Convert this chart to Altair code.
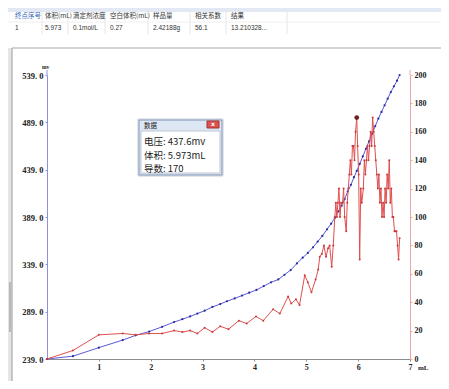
import altair as alt
import pandas as pd

# ---------------- data ----------------
vol_b = [0, 0.5, 1.0, 1.46, 1.71, 1.97, 2.22, 2.45, 2.61, 2.76,
         2.90, 3.04, 3.19, 3.34, 3.47, 3.62, 3.76, 3.90, 4.04, 4.18,
         4.32, 4.46, 4.58, 4.70, 4.82, 4.93, 5.03, 5.13, 5.22, 5.31,
         5.40, 5.48, 5.55, 5.62, 5.68, 5.74, 5.80, 5.86, 5.92, 5.973,
         6.03, 6.09, 6.15, 6.21, 6.27, 6.33, 6.39, 6.45, 6.51, 6.57,
         6.63, 6.69, 6.75, 6.80]
mv = [239, 242, 251, 259, 264, 268, 273, 278, 281, 284,
      287, 290, 294, 297, 300, 303, 306, 309, 312, 316,
      320, 323, 328, 333, 340, 346, 351, 357, 363, 369,
      376, 382, 388, 395, 401, 408, 416, 423, 431, 437.6,
      445, 453, 461, 469, 477, 485, 493, 500, 507, 514,
      521, 527, 533, 539]

vol_d = [0, 0.5, 1.0, 1.46, 1.71, 1.97, 2.22, 2.45, 2.61, 2.76,
         2.90, 3.04, 3.19, 3.34, 3.50, 3.70, 3.85, 4.03, 4.17, 4.36,
         4.49, 4.65, 4.71, 4.80, 4.87, 4.97, 5.03, 5.10, 5.18, 5.23,
         5.26, 5.30, 5.34, 5.38, 5.42, 5.45, 5.49, 5.52, 5.55, 5.57,
         5.59, 5.61, 5.63, 5.65, 5.67, 5.70, 5.72, 5.74, 5.77, 5.79,
         5.81, 5.83, 5.85, 5.87, 5.89, 5.91, 5.93, 5.95, 5.973, 5.99,
         6.01, 6.03, 6.05, 6.07, 6.10, 6.12, 6.14, 6.16, 6.18, 6.20,
         6.22, 6.24, 6.26, 6.28, 6.30, 6.32, 6.34, 6.36, 6.38, 6.40,
         6.42, 6.44, 6.46, 6.48, 6.50, 6.52, 6.54, 6.56, 6.58, 6.60,
         6.62, 6.64, 6.66, 6.68, 6.70, 6.72, 6.74, 6.76, 6.78, 6.80]
deriv = [0, 6, 17, 18, 17, 18, 18, 20, 19, 20,
         18, 22, 19, 23, 21, 27, 25, 30, 27, 35,
         32, 44, 39, 42, 38, 59, 54, 47, 56, 63,
         72, 74, 80, 72, 78, 80, 65, 80, 100, 110,
         100, 110, 120, 100, 110, 110, 120, 100, 90, 110,
         120, 130, 140, 130, 150, 150, 140, 160, 170, 150,
         130, 70, 120, 110, 120, 140, 130, 140, 150, 140,
         150, 160, 150, 170, 160, 150, 140, 130, 120, 130,
         110, 120, 100, 110, 100, 120, 110, 130, 120, 140,
         110, 120, 100, 100, 90, 90, 90, 80, 70, 85]

# selected end point
sel_vol = 5.973
sel_mv = 437.6
sel_deriv = 170

# result table
table_header = ["终点序号", "体积(mL)", "滴定剂浓度", "空白体积(mL)", "样品量", "相关系数", "结果"]
table_row = ["1", "5.973", "0.1mol/L", "0.27", "2.42188g", "56.1", "13.210328..."]

mv_ticks = [239, 289, 339, 389, 439, 489, 539]
d_ticks = list(range(0, 201, 20))
x_ticks = [1, 2, 3, 4, 5, 6, 7]

# ---------------- layout (pixels, relative to plot origin) ----------------
col_x = [-32, -2, 26, 63, 106, 148, 184]
sep_x = [-5, 21, 58, 101, 143, 179, 240]

df_b = pd.DataFrame({"vol": vol_b, "mv": mv})
df_d = pd.DataFrame({"vol": vol_d, "d": deriv})
df_sel = pd.DataFrame({"vol": [sel_vol], "d": [sel_deriv]})
one = pd.DataFrame({"a": [0]})

SERIF = "Liberation Serif"
CJK = "Noto Sans CJK SC"

xscale = alt.Scale(domain=[0, 7], nice=False, zero=True)
xaxis = alt.Axis(
    values=x_ticks, title="", domainColor="#8c8c8c", tickColor="#8c8c8c",
    tickSize=2, labelPadding=2, labelFont=SERIF, labelFontSize=8,
    labelFontWeight="bold", labelColor="#222", grid=False, labelFlush=False)
X = alt.X("vol:Q", scale=xscale, axis=xaxis)


def rect(x, x2, y, y2, fill, stroke=None, sw=1):
    kw = dict(fill=fill)
    if stroke:
        kw.update(stroke=stroke, strokeWidth=sw)
    return alt.Chart(one).mark_rect(**kw).encode(
        x=alt.value(x), x2=alt.value(x2), y=alt.value(y), y2=alt.value(y2))


def rule(x, x2, y, y2, color, sw=1):
    return alt.Chart(one).mark_rule(color=color, strokeWidth=sw).encode(
        x=alt.value(x), x2=alt.value(x2), y=alt.value(y), y2=alt.value(y2))


def text(s, x, y, size, color="#222", font=CJK, weight="normal", align="left"):
    return alt.Chart(one).mark_text(
        text=s, font=font, fontSize=size, color=color, fontWeight=weight,
        align=align, baseline="middle").encode(x=alt.value(x), y=alt.value(y))


under = []
# top band / panel frame
under.append(rect(-60, 420, -67, -63, "#e3e8f5"))
for sx in sep_x:
    under.append(rule(sx, sx, -64, -41, "#e6e6e6"))
under.append(rule(-39, 400, -53, -53, "#f0f0f0"))
under.append(rect(-60, -35, -27, 320, "#e6e6e6"))
under.append(rule(-35, -35, -27, 320, "#9a9a9a"))
under.append(rule(-35, 420, -27, -27, "#a8a8a8"))
under.append(rect(-38, -36, 207, 257, "#b8b8b8"))
for i, (h, r) in enumerate(zip(table_header, table_row)):
    under.append(text(h, col_x[i], -59, 6.5, "#2f5fb8" if i == 0 else "#333"))
    under.append(text(r, col_x[i], -47, 6.5, "#333", font="Liberation Sans"))
# axis end arrows and unit labels
under.append(rule(0, 0, -5, 0, "#9090e0"))
under.append(rule(363, 363, -5, 0, "#e8a8a8"))
under.append(text("mv", -5, -8, 5.5, "#222", font=SERIF, weight="bold"))
under.append(text("mL", 371, 293, 7, "#222", font=SERIF, weight="bold"))

blue = alt.Chart(df_b).mark_line(
    color="#5a5ad6", strokeWidth=1,
    point=alt.OverlayMarkDef(color="#2b2ba0", size=5, filled=True)
).encode(
    x=X,
    y=alt.Y("mv:Q", scale=alt.Scale(domain=[239, 539], nice=False, zero=False),
            axis=alt.Axis(orient="left", values=mv_ticks, title="",
                          labelExpr="replace(format(datum.value, '.1f'), '.', '. ')",
                          domainColor="#9090e0", tickColor="#9090e0", tickSize=2,
                          labelPadding=2, labelFont=SERIF, labelFontSize=8.5,
                          labelFontWeight="bold", labelColor="#222", grid=False))
)

red = alt.Chart(df_d).mark_line(
    color="#e05050", strokeWidth=1,
    point=alt.OverlayMarkDef(color="#c83a3a", size=4, filled=True)
).encode(
    x=X,
    y=alt.Y("d:Q", scale=alt.Scale(domain=[0, 200], nice=False),
            axis=alt.Axis(orient="right", values=d_ticks, title="",
                          domainColor="#e8a8a8", tickColor="#e8a8a8", tickSize=2,
                          labelPadding=2, labelFont=SERIF, labelFontSize=8,
                          labelFontWeight="bold", labelColor="#222", grid=False))
)

hl = alt.Chart(df_sel).mark_point(
    filled=True, color="#6b1f1f", size=22, opacity=1
).encode(
    x=X,
    y=alt.Y("d:Q", scale=alt.Scale(domain=[0, 200], nice=False), axis=None)
)

over = []
# popup window
over.append(rect(91, 176, 44, 101, "#ffffff", "#c8ced8"))
over.append(rect(92, 175, 45, 100, "#dde6f3", "#7f95b5"))
over.append(rect(94, 173, 56, 98, "#ffffff", "#c0c8d4"))
over.append(rect(160, 172, 46, 53, "#d9534f", "#a83030"))
over.append(text("x", 166, 49, 6, "#ffffff", font="DejaVu Sans", weight="bold", align="center"))
over.append(text("数据", 97, 50.5, 6.5, "#222"))
over.append(text(f"电压: {sel_mv}mv", 97, 67, 9.5, "#222"))
over.append(text(f"体积: {sel_vol}mL", 97, 80.5, 9.5, "#222"))
over.append(text(f"导数: {sel_deriv}", 97, 94, 9.5, "#222"))

chart = alt.layer(*under, blue, red, hl, *over).resolve_scale(
    y="independent"
).properties(
    width=363, height=284,
    padding={"left": 39, "top": 67, "right": 31, "bottom": 22},
    autosize=alt.AutoSizeParams(type="none"),
    background="#ffffff",
).configure_view(stroke="transparent")

chart.save("out.html", embed_options={"renderer": "svg", "actions": False})
